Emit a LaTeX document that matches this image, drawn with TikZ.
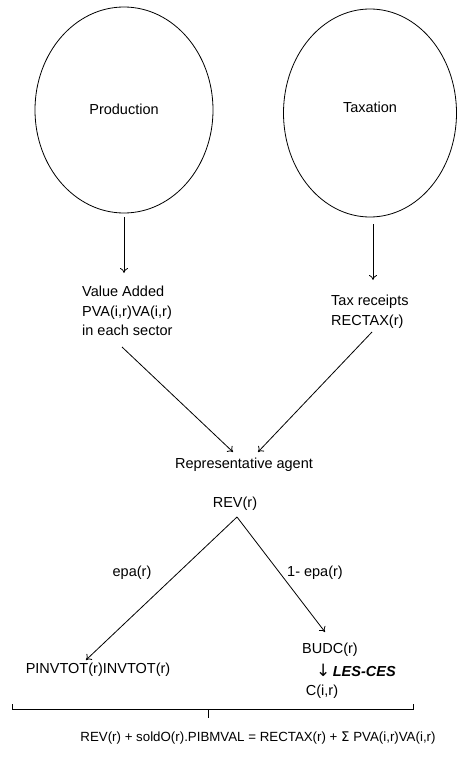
\documentclass[tikz,border=0pt]{standalone}
\usepackage{fontspec}
\setmainfont{Liberation Sans}
\newfontfamily\symfont{DejaVu Sans}
\usetikzlibrary{arrows.meta}
\begin{document}
\begin{tikzpicture}[x=1pt,y=-1pt,
  every node/.style={font=\fontsize{14.5}{19.5}\selectfont, inner sep=0pt},
  lbl/.style={align=left},
  flow/.style={draw=black, line width=0.8pt, -{To[length=5pt,width=8pt]}},
  ring/.style={draw=black, line width=0.8pt}]
\useasboundingbox (0,0) rectangle (457,768);

% the two sources
\draw[ring] (124,110) ellipse [x radius=89, y radius=103];
\draw[ring] (370,113) ellipse [x radius=86.5, y radius=104];
\node (prod) at (124,109) {Production};
\node (tax) at (370,107) {Taxation};
\coordinate (prodB) at (124,217);
\coordinate (taxB) at (373,224);

% incomes
\node[lbl, anchor=north west] (va) at (82,286) {Value Added\\PVA(i,r)VA(i,r)\\in each sector};
\node[lbl, anchor=north west] (tr) at (331,295) {Tax receipts\\RECTAX(r)};
\draw[flow] (prodB) -- (124,273) coordinate (vaT);
\draw[flow] (taxB) -- (373,280) coordinate (trT);

% representative agent
\node (ra) at (244,465) {Representative agent};
\draw[flow] (122,347) -- (233,452);
\draw[flow] (372,332) -- (258,452);

% income split
\node (rev) at (235,504) {REV(r)};
\node (inv) at (98,670) {PINVTOT(r)INVTOT(r)};
\node (budc) at (330,650) {BUDC(r)};
\node (cons) at (322,692) {C(i,r)};
\node[anchor=west] (les) at (316,670) {{\symfont\fontsize{17}{17}\selectfont ↓}\,\textbf{\textit{LES-CES}}};
\draw[flow] (237,517) -- (86,660);
\draw[flow] (237,517) -- (325,632);
\node (epa) at (132,573) {epa(r)};
\node (epb) at (315,573) {1- epa(r)};

% bracket and balance equation
\draw[line width=0.8pt] (12,704) -- (12,709) -- (413,709) -- (413,704);
\draw[line width=0.8pt] (208,709) -- (208,718);
\node[font=\fontsize{13.3}{15}\selectfont] (eq) at (258,738) {REV(r) + soldO(r).PIBMVAL = RECTAX(r) + {\symfont Σ} PVA(i,r)VA(i,r)};
\end{tikzpicture}
\end{document}
